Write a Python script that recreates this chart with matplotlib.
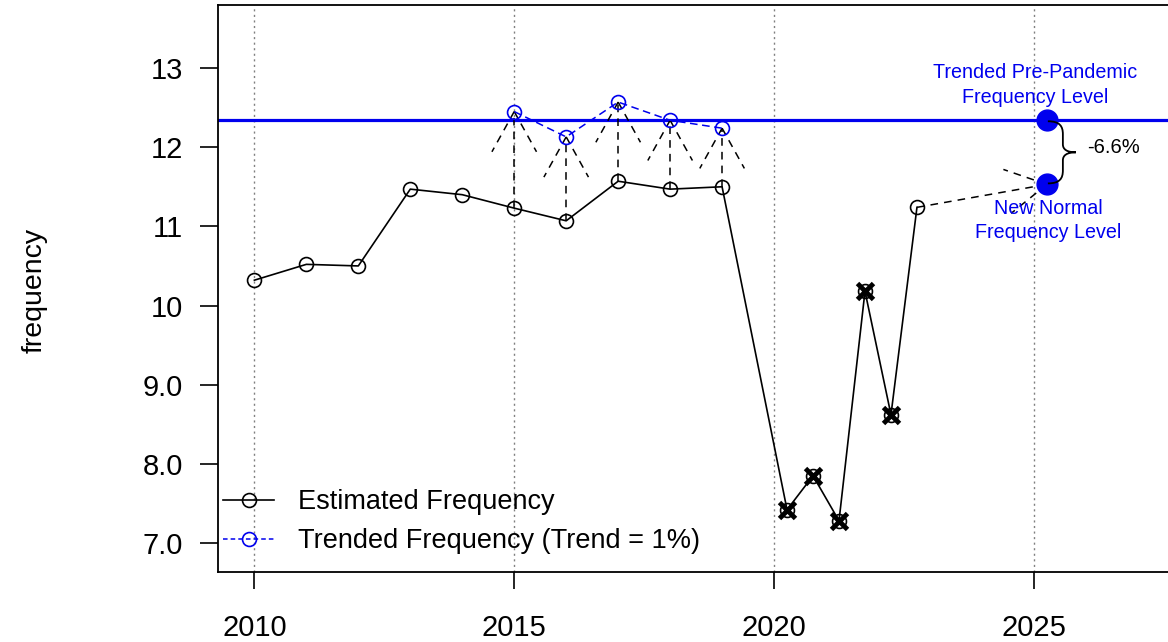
import numpy as np
import matplotlib.pyplot as plt
from matplotlib.path import Path
from matplotlib.patches import PathPatch
from matplotlib.lines import Line2D

plt.rcParams['font.family'] = ['Liberation Sans', 'DejaVu Sans']

# estimated frequency (annual, then half-year points during the pandemic)
years_est = [2010, 2011, 2012, 2013, 2014, 2015, 2016, 2017, 2018, 2019,
             2020.25, 2020.75, 2021.25, 2021.75, 2022.25, 2022.75]
freq_est = [10.32, 10.52, 10.50, 11.47, 11.40, 11.23, 11.07, 11.57, 11.47, 11.50,
            7.42, 7.85, 7.28, 10.18, 8.62, 11.24]
covid_idx = [10, 11, 12, 13, 14]

# trended frequency (trend = 1%)
years_trend = [2015, 2016, 2017, 2018, 2019]
freq_trend = [12.45, 12.13, 12.57, 12.34, 12.24]

pre_pandemic = 12.34
new_normal = 11.53
target_year = 2025.25
change_label = '-6.6%'

xticks = [2010, 2015, 2020, 2025]
yticks = [7, 8, 9, 10, 11, 12, 13]
ytick_labels = ['7.0', '8.0', '9.0', '10', '11', '12', '13']

W, H = 1168, 642
fig = plt.figure(figsize=(W / 100, H / 100), dpi=100)
ax = fig.add_axes([218 / W, 70 / H, (1169 - 218) / W, (637 - 70) / H])
ax.set_xlim(2009.3, 2027.6)
ax.set_ylim(6.634, 13.796)

for s in ['top', 'left', 'bottom']:
    ax.spines[s].set_linewidth(1.3)
ax.spines['right'].set_visible(False)

for x in xticks:
    ax.axvline(x, color='gray', ls=(0, (1.5, 2.5)), lw=1, zorder=0)

ax.set_xticks(xticks)
ax.set_xticklabels([str(x) for x in xticks])
ax.set_yticks(yticks)
ax.set_yticklabels(ytick_labels)
ax.tick_params(axis='x', length=12, width=1.2, pad=18, labelsize=21)
ax.tick_params(axis='y', length=13, width=1.2, pad=12, labelsize=21)

fig.text(35 / W, 1 - 290 / H, 'frequency', rotation=90, ha='center', va='center', fontsize=20.5)

# pre-pandemic level line
ax.axhline(pre_pandemic, color='#0000ee', lw=2.3, zorder=2)

# estimated series
ax.plot(years_est, freq_est, color='black', lw=1.2, marker='o', ms=10,
        mfc='none', mec='black', mew=1.2, zorder=3)
cx = [years_est[i] for i in covid_idx]
cy = [freq_est[i] for i in covid_idx]
ax.plot(cx, cy, ls='none', marker='x', ms=11, mew=3.5, color='black', zorder=4)

# trended series
ax.plot(years_trend, freq_trend, color='#0000ee', lw=1.1, ls=(0, (5, 3)),
        marker='o', ms=10, mfc='none', mec='#0000ee', mew=1.2, zorder=3)

fig.canvas.draw()
to_disp = ax.transData.transform
to_data = ax.transData.inverted().transform


def dashed_arrow(x0, y0, x1, y1, head=46, angle=29):
    ax.plot([x0, x1], [y0, y1], color='black', lw=1.1, ls=(0, (5, 4)), zorder=2)
    p0 = to_disp((x0, y0))
    p1 = to_disp((x1, y1))
    d = p0 - p1
    d = d / np.hypot(*d)
    for a in (angle, -angle):
        r = np.radians(a)
        v = np.array([d[0] * np.cos(r) - d[1] * np.sin(r), d[0] * np.sin(r) + d[1] * np.cos(r)])
        q = to_data(p1 + v * head)
        ax.plot([x1, q[0]], [y1, q[1]], color='black', lw=1.1, ls=(0, (5, 4)), zorder=2)


for yr, te in zip(years_trend, freq_trend):
    dashed_arrow(yr, freq_est[years_est.index(yr)], yr, te)
dashed_arrow(years_est[-1], freq_est[-1], target_year, new_normal)

# level points
ax.plot([target_year, target_year], [pre_pandemic, new_normal], ls='none', marker='o',
        ms=15, color='#0000ee', zorder=5)

# curly brace between the two levels
top = to_disp((target_year, pre_pandemic))
bot = to_disp((target_year, new_normal))
xb = top[0] + 1
yt, yb = top[1] - 1, bot[1] + 1
ym = (yt + yb) / 2
pts = [(xb, yt), (xb + 12, yt), (xb + 15, yt - 5), (xb + 15, yt - 13),
       (xb + 15, ym + 8),
       (xb + 15, ym + 3), (xb + 19, ym), (xb + 28, ym),
       (xb + 19, ym), (xb + 15, ym - 3), (xb + 15, ym - 8),
       (xb + 15, yb + 13),
       (xb + 15, yb + 5), (xb + 12, yb), (xb, yb)]
codes = [Path.MOVETO, Path.CURVE4, Path.CURVE4, Path.CURVE4, Path.LINETO,
         Path.CURVE4, Path.CURVE4, Path.CURVE4, Path.CURVE4, Path.CURVE4, Path.CURVE4,
         Path.LINETO, Path.CURVE4, Path.CURVE4, Path.CURVE4]
brace = Path([tuple(to_data(p)) for p in pts], codes)
ax.add_patch(PathPatch(brace, fc='none', ec='black', lw=1.3, zorder=6))

ax.text(2026.02, 12.0, change_label, ha='left', va='center', fontsize=14.5)
ax.text(2025.02, 12.786, 'Trended Pre-Pandemic\nFrequency Level', color='#0000ee',
        ha='center', va='center', fontsize=14.2, linespacing=1.35)
ax.text(2025.27, 11.074, 'New Normal\nFrequency Level', color='#0000ee',
        ha='center', va='center', fontsize=14.2, linespacing=1.35)

handles = [Line2D([], [], color='black', lw=1.2, marker='o', ms=10, mfc='none', mew=1.2),
           Line2D([], [], color='#0000ee', lw=1.1, ls=(0, (3, 2)), marker='o', ms=10,
                  mfc='none', mew=1.2)]
ax.legend(handles, ['Estimated Frequency', 'Trended Frequency (Trend = 1%)'],
          loc='lower left', bbox_to_anchor=(0.0, 0.022), frameon=False, fontsize=19.5,
          handlelength=1.87, handletextpad=0.9, labelspacing=0.48, borderpad=0,
          borderaxespad=0.2)

fig.savefig('out.png', dpi=100)
